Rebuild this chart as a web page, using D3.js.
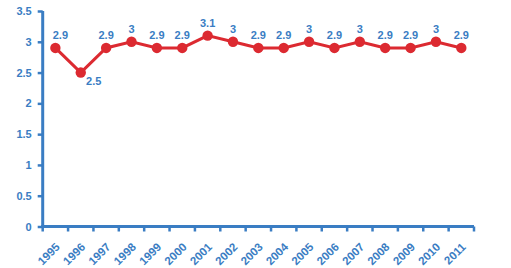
<!DOCTYPE html>
<html><head><meta charset="utf-8">
<script src="https://cdn.jsdelivr.net/npm/d3@7"></script>
<style>body{margin:0;background:#fff}svg{display:block}</style>
</head><body>
<script>
const years = ["1995","1996","1997","1998","1999","2000","2001","2002","2003","2004","2005","2006","2007","2008","2009","2010","2011"];
const values = [2.9,2.5,2.9,3,2.9,2.9,3.1,3,2.9,2.9,3,2.9,3,2.9,2.9,3,2.9];
const yTicks = [0,0.5,1,1.5,2,2.5,3,3.5];

const W=511,H=268;
const blue="#3a7dc3", red="#dc2a31";
const svg=d3.select("body").append("svg").attr("width",W).attr("height",H);
const x=d3.scaleBand().domain(years).range([42.7,474]);
const y=d3.scaleLinear().domain([0,3.5]).range([226.5,11]);
const font="Arial, 'Liberation Sans', sans-serif";

// Y axis
const ya=svg.append("g").attr("transform","translate(42.7,0)")
  .call(d3.axisLeft(y).tickValues(yTicks).tickSize(5).tickPadding(6).tickFormat(d=>d));
ya.select(".domain").attr("stroke",blue).attr("stroke-width",3).attr("d",`M0,${y(3.5)}V${y(0)}`);
ya.selectAll(".tick line").attr("stroke",blue).attr("stroke-width",2.5);
ya.selectAll(".tick text").attr("fill",blue).attr("font-size",11).attr("font-weight","bold").attr("font-family",font);

// X axis with band-boundary ticks
const xa=svg.append("g").attr("transform",`translate(0,${y(0)})`);
xa.append("line").attr("x1",x.range()[0]-1.5).attr("x2",x.range()[1]).attr("stroke",blue).attr("stroke-width",3);
const bounds=years.map(d=>x(d)).concat([x.range()[1]]);
xa.selectAll(".xt").data(bounds).join("line").attr("x1",d=>d).attr("x2",d=>d).attr("y1",0).attr("y2",5)
  .attr("stroke",blue).attr("stroke-width",2.5);
xa.selectAll(".xl").data(years).join("text")
  .attr("transform",d=>`translate(${x(d)+x.bandwidth()/2-0.5},${15.5}) rotate(-45)`)
  .attr("text-anchor","end").attr("dy","0.7em")
  .attr("fill",blue).attr("font-size",11.5).attr("font-weight","bold").attr("font-family",font)
  .text(d=>d);

const cx=d=>x(d)+x.bandwidth()/2;
const data=years.map((d,i)=>({year:d,v:values[i],i}));
svg.append("path").datum(data).attr("fill","none").attr("stroke",red).attr("stroke-width",3)
  .attr("d",d3.line().x(d=>cx(d.year)).y(d=>y(d.v)));
svg.selectAll(".pt").data(data).join("circle").attr("cx",d=>cx(d.year)).attr("cy",d=>y(d.v)).attr("r",5.2).attr("fill",red);

const minV=d3.min(values);
svg.selectAll(".lbl").data(data).join("text")
  .attr("x",d=>cx(d.year)+(d.v===minV?13:(d.i===0?5:0)))
  .attr("y",d=>y(d.v)+(d.v===minV?12:-9))
  .attr("text-anchor","middle")
  .attr("fill",blue).attr("font-size",11).attr("font-weight","bold").attr("font-family",font)
  .text(d=>d.v);
</script>
</body></html>
